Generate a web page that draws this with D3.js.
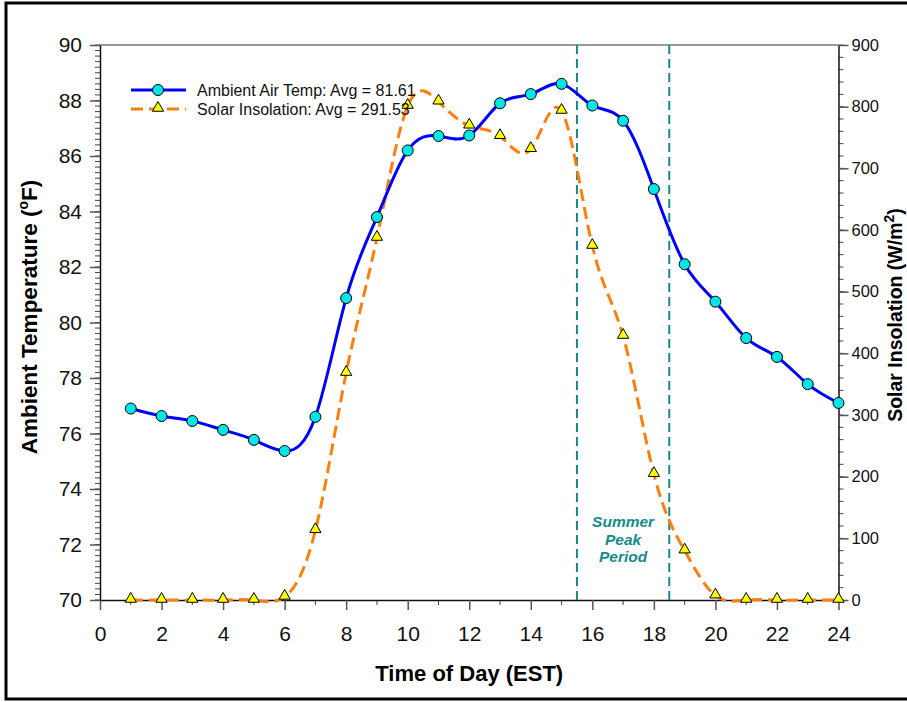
<!DOCTYPE html>
<html>
<head>
<meta charset="utf-8">
<script src="https://cdnjs.cloudflare.com/ajax/libs/d3/7.8.5/d3.min.js"></script>
<style>
  body { margin: 0; background: #fff; }
  svg { font-family: Arial, "Liberation Sans", sans-serif; }
</style>
</head>
<body>
<svg width="907" height="702"></svg>
<script>
var hours = [1,2,3,4,5,6,7,8,9,10,11,12,13,14,15,16,17,18,19,20,21,22,23,24]
var airTemp = [76.9,76.63,76.45,76.13,75.77,75.37,76.6,80.88,83.8,86.2,86.72,86.74,87.9,88.23,88.6,87.82,87.27,84.81,82.1,80.75,79.44,78.76,77.78,77.1]
var solar = [0,0,0,0,0,5,113,368,587,801,808,769,752,731,793,574,428,204,80,7,0,0,0,0]
var xTicks = [0,2,4,6,8,10,12,14,16,18,20,22,24]
var tempTicks = [70,72,74,76,78,80,82,84,86,88,90]
var solarTicks = [0,100,200,300,400,500,600,700,800,900]
var peakStart = 15.5, peakEnd = 18.5
var legendLabels = ["Ambient Air Temp: Avg = 81.61", "Solar Insolation: Avg = 291.53"]

var svg = d3.select("svg")

// outer frame
svg.append("rect")
  .attr("x", 6).attr("y", 3).attr("width", 910).attr("height", 696)
  .attr("fill", "none").attr("stroke", "#000").attr("stroke-width", 3)

var pLeft = 100, pRight = 838.5, pTop = 45, pBottom = 600

var x = d3.scaleLinear().domain([0, 24]).range([pLeft, pRight])
var yT = d3.scaleLinear().domain([70, 90]).range([pBottom, pTop])
var yS = d3.scaleLinear().domain([0, 900]).range([pBottom, pTop])

// top border
svg.append("line")
  .attr("x1", pLeft).attr("x2", pRight).attr("y1", pTop).attr("y2", pTop)
  .attr("stroke", "#777").attr("stroke-width", 1.5)

// minor ticks
var g = svg.append("g")
g.selectAll(".ml").data(d3.range(70, 90.01, 0.2)).enter().append("line")
  .attr("x1", pLeft).attr("x2", pLeft - 5)
  .attr("y1", d => yT(d)).attr("y2", d => yT(d))
  .attr("stroke", "#444").attr("stroke-width", 1)
g.selectAll(".mr").data(d3.range(0, 901, 20)).enter().append("line")
  .attr("x1", pRight).attr("x2", pRight + 5)
  .attr("y1", d => yS(d)).attr("y2", d => yS(d))
  .attr("stroke", "#444").attr("stroke-width", 1)
g.selectAll(".mb").data(d3.range(1, 24, 2)).enter().append("line")
  .attr("x1", d => x(d)).attr("x2", d => x(d))
  .attr("y1", pBottom).attr("y2", pBottom + 5)
  .attr("stroke", "#444").attr("stroke-width", 1)

// axes
var xAxis = svg.append("g").attr("transform", "translate(0," + pBottom + ")")
  .call(d3.axisBottom(x).tickValues(xTicks).tickSize(10).tickPadding(16).tickSizeOuter(0))
var lAxis = svg.append("g").attr("transform", "translate(" + pLeft + ",0)")
  .call(d3.axisLeft(yT).tickValues(tempTicks).tickSize(10).tickPadding(8).tickSizeOuter(0))
var rAxis = svg.append("g").attr("transform", "translate(" + pRight + ",0)")
  .call(d3.axisRight(yS).tickValues(solarTicks).tickSize(10).tickPadding(3).tickSizeOuter(0))

;[xAxis, lAxis, rAxis].forEach(function(a){
  a.select(".domain").attr("stroke", "#111").attr("stroke-width", 1.5)
  a.selectAll(".tick line").attr("stroke", "#555").attr("stroke-width", 1.5)
  a.selectAll("text").attr("fill", "#111").attr("font-family", "Arial, 'Liberation Sans', sans-serif")
})
xAxis.selectAll("text").attr("font-size", 21)
lAxis.selectAll("text").attr("font-size", 21)
rAxis.selectAll("text").attr("font-size", 16.5)

// axis titles
svg.append("text")
  .attr("x", (pLeft + pRight) / 2).attr("y", 681)
  .attr("text-anchor", "middle").attr("font-size", 22).attr("font-weight", "bold")
  .text("Time of Day (EST)")

var lt = svg.append("text")
  .attr("transform", "translate(37,317) rotate(-90)")
  .attr("text-anchor", "middle").attr("font-size", 22.5).attr("font-weight", "bold")
lt.append("tspan").text("Ambient Temperature (")
lt.append("tspan").attr("font-size", 14).attr("dy", -9).text("o")
lt.append("tspan").attr("dy", 9).text("F)")

var rt = svg.append("text")
  .attr("transform", "translate(902,315) rotate(-90)")
  .attr("text-anchor", "middle").attr("font-size", 19.5).attr("font-weight", "bold")
rt.append("tspan").text("Solar Insolation (W/m")
rt.append("tspan").attr("font-size", 14).attr("dy", -8).text("2")
rt.append("tspan").attr("dy", 8).text(")")

// summer peak period lines
svg.selectAll(".peak").data([peakStart, peakEnd]).enter().append("line")
  .attr("x1", d => x(d)).attr("x2", d => x(d))
  .attr("y1", pTop).attr("y2", pBottom)
  .attr("stroke", "#168a8a").attr("stroke-width", 2)
  .attr("stroke-dasharray", "9,5")

var pt = svg.append("text")
  .attr("text-anchor", "middle").attr("font-size", 15.5)
  .attr("font-weight", "bold").attr("font-style", "italic").attr("fill", "#168a8a")
;["Summer", "Peak", "Period"].forEach(function(s, i){
  pt.append("tspan").attr("x", x((peakStart + peakEnd) / 2)).attr("y", 527 + i * 17.5).text(s)
})

// lines
var solarLine = d3.line().x((d, i) => x(hours[i])).y(d => yS(d)).curve(d3.curveNatural)
var tempLine = d3.line().x((d, i) => x(hours[i])).y(d => yT(d)).curve(d3.curveNatural)

svg.append("path").datum(solar)
  .attr("d", solarLine).attr("fill", "none")
  .attr("stroke", "#ff7f0e").attr("stroke-width", 3)
  .attr("stroke-dasharray", "12,6")

svg.append("path").datum(airTemp)
  .attr("d", tempLine).attr("fill", "none")
  .attr("stroke", "#0000ff").attr("stroke-width", 3)

var tri = d3.symbol().type(d3.symbolTriangle).size(55)

svg.selectAll(".tri").data(solar).enter().append("path")
  .attr("d", tri)
  .attr("transform", (d, i) => "translate(" + x(hours[i]) + "," + (yS(d) - 1) + ")")
  .attr("fill", "#ffff00").attr("stroke", "#000").attr("stroke-width", 1)

svg.selectAll(".dot").data(airTemp).enter().append("circle")
  .attr("cx", (d, i) => x(hours[i])).attr("cy", d => yT(d)).attr("r", 5.5)
  .attr("fill", "#00e5e5").attr("stroke", "#000").attr("stroke-width", 1)

// legend
var lg = svg.append("g")
lg.append("line").attr("x1", 131).attr("x2", 186).attr("y1", 90).attr("y2", 90)
  .attr("stroke", "#0000ff").attr("stroke-width", 3)
lg.append("circle").attr("cx", 158).attr("cy", 90).attr("r", 5.5)
  .attr("fill", "#00e5e5").attr("stroke", "#000")
lg.append("line").attr("x1", 131).attr("x2", 186).attr("y1", 109).attr("y2", 109)
  .attr("stroke", "#ff7f0e").attr("stroke-width", 3).attr("stroke-dasharray", "12,6")
lg.append("path").attr("d", tri).attr("transform", "translate(158,108)")
  .attr("fill", "#ffff00").attr("stroke", "#000")
lg.selectAll("text").data(legendLabels).enter().append("text")
  .attr("x", 197).attr("y", (d, i) => 96 + i * 19)
  .attr("font-size", 16).attr("fill", "#111")
  .text(d => d)
</script>
</body>
</html>
